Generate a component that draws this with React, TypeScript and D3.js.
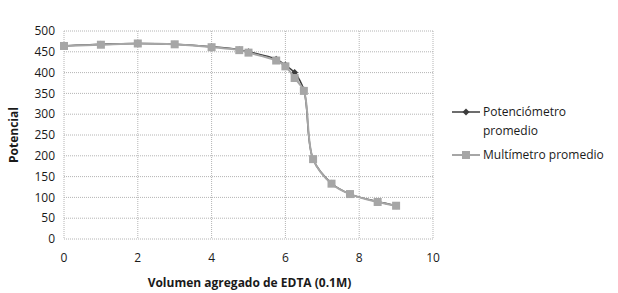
import React from 'react';
import {scaleLinear, line, curveCatmullRom} from 'd3';

// volumen (mL) vs potencial (mV)
const volPot = [0, 1, 2, 3, 4, 4.75, 5, 5.75, 6, 6.25, 6.5, 6.75, 7.25, 7.75, 8.5, 9];
const potPot = [464, 468, 470, 468, 462, 455, 450, 432, 418, 400, 358, 192, 134, 108, 90, 80];
const volMul = [0, 1, 2, 3, 4, 4.75, 5, 5.75, 6, 6.25, 6.5, 6.75, 7.25, 7.75, 8.5, 9];
const potMul = [464, 467, 470, 468, 461, 454, 448, 429, 415, 387, 356, 192, 133, 108, 89, 80];

const xTicks = [0, 2, 4, 6, 8, 10];
const yTicks = [0, 50, 100, 150, 200, 250, 300, 350, 400, 450, 500];

const font = "'Open Sans', 'Liberation Sans', sans-serif";

const App = () => {
    const width = 618, height = 293;
    const margin = {left: 64, top: 31, right: 185, bottom: 54};
    const plotW = width - margin.left - margin.right;
    const plotH = height - margin.top - margin.bottom;

    const x = scaleLinear().domain([0, 10]).range([0, plotW]);
    const y = scaleLinear().domain([0, 500]).range([plotH, 0]);

    const pot = volPot.map((v, i) => [x(v), y(potPot[i])] as [number, number]);
    const mul = volMul.map((v, i) => [x(v), y(potMul[i])] as [number, number]);
    const l = line().curve(curveCatmullRom.alpha(0.5));

    const diamond = (cx: number, cy: number, r: number) =>
        `M${cx},${cy - r}L${cx + r},${cy}L${cx},${cy + r}L${cx - r},${cy}Z`;

    return (
        <svg width={width} height={height} style={{position: 'absolute', left: 0, top: 0, background: '#fff'}}
             fontFamily={font}>
            <g transform={`translate(${margin.left},${margin.top})`}>
                {yTicks.map(t => (
                    <line key={'gy' + t} x1={0} x2={plotW} y1={y(t)} y2={y(t)}
                          stroke="#b4b4b4" strokeDasharray="1,1"/>
                ))}
                {xTicks.map(t => (
                    <line key={'gx' + t} x1={x(t)} x2={x(t)} y1={0} y2={plotH}
                          stroke="#b4b4b4" strokeDasharray="1,1"/>
                ))}
                {yTicks.map(t => (
                    <text key={'ty' + t} x={-9} y={y(t)} dy="0.35em" textAnchor="end"
                          fontSize={12} fill="#1a1a1a">{t}</text>
                ))}
                {xTicks.map(t => (
                    <text key={'tx' + t} x={x(t)} y={plotH + 19} dy="0.35em" textAnchor="middle"
                          fontSize={12} fill="#1a1a1a">{t}</text>
                ))}

                <path d={l(pot) || ''} fill="none" stroke="#3c3c3c" strokeWidth={1.5}/>
                {pot.map((p, i) => (
                    <path key={'dp' + i} d={diamond(p[0], p[1], 3.5)} fill="#3c3c3c"/>
                ))}
                <path d={l(mul) || ''} fill="none" stroke="#a6a6a6" strokeWidth={2}/>
                {mul.map((p, i) => (
                    <rect key={'sm' + i} x={p[0] - 4} y={p[1] - 4} width={8} height={8} fill="#a6a6a6"/>
                ))}

                <text x={plotW / 2 + 1} y={plotH + 44} dy="0.35em" textAnchor="middle"
                      fontSize={12} fontWeight="bold" fill="#1a1a1a">Volumen agregado de EDTA (0.1M)</text>
                <text transform={`translate(${-50},${plotH / 2}) rotate(-90)`} textAnchor="middle" dy="0.35em"
                      fontSize={12} fontWeight="bold" fill="#1a1a1a">Potencial</text>
            </g>

            <g fontSize={12} fill="#1a1a1a">
                <line x1={452} x2={480} y1={112} y2={112} stroke="#3c3c3c" strokeWidth={1.5}/>
                <path d={diamond(466, 112, 3.5)} fill="#3c3c3c"/>
                <text x={483} y={112} dy="0.35em">Potenciómetro</text>
                <text x={483} y={131} dy="0.35em">promedio</text>
                <line x1={452} x2={480} y1={155} y2={155} stroke="#a6a6a6" strokeWidth={2}/>
                <rect x={462} y={151} width={8} height={8} fill="#a6a6a6"/>
                <text x={483} y={155} dy="0.35em">Multímetro promedio</text>
            </g>
        </svg>
    );
};

export default App;
